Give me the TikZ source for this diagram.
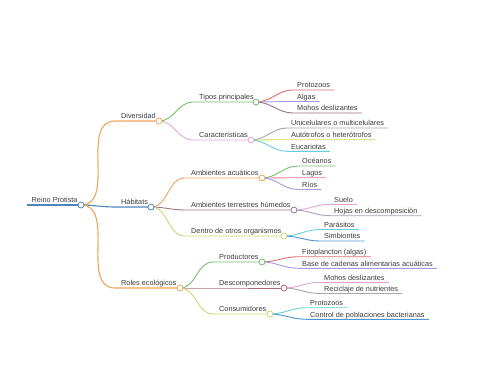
\documentclass[tikz,border=0pt]{standalone}
\usepackage{fontspec}
\setmainfont{Liberation Sans}
\usepackage{xcolor}
\usepackage{tikz}

\definecolor{cOrange}{HTML}{F2A35A}
\definecolor{cBlue}{HTML}{4F86B8}
\definecolor{cGreen}{HTML}{72BE6A}
\definecolor{cPink}{HTML}{E4A6D2}
\definecolor{cRed}{HTML}{DE6F75}
\definecolor{cViolet}{HTML}{A79AE6}
\definecolor{cMauve}{HTML}{9C7486}
\definecolor{cBrick}{HTML}{B06A78}
\definecolor{cGrey}{HTML}{ABA2B2}
\definecolor{cYellow}{HTML}{D6D65A}
\definecolor{cLime}{HTML}{CCD66E}
\definecolor{cCyan}{HTML}{66CFDB}
\definecolor{cSky}{HTML}{4C95D2}
\definecolor{cText}{HTML}{3A3A3A}

\begin{document}
\begin{tikzpicture}[x=1pt, y=-1pt,
  lbl/.style={anchor=south west, font=\fontsize{7.3}{8}\selectfont, text=cText,
              inner xsep=4.5pt, inner ysep=2pt, text height=5.4pt, text depth=0pt},
  topic/.style={lbl, inner xsep=6pt},
  leaf/.style={lbl, inner xsep=4pt},
  dot/.style={circle, draw=#1, fill=white, line width=0.8pt, minimum size=6pt, inner sep=0pt},
  link/.style={draw=#1, line width=0.9pt},
  trunk/.style={draw=#1, line width=1.1pt}
]
\useasboundingbox (0,0) rectangle (480,384);

\node[lbl]   (root)   at (27,205)  {Reino Protista};
\node[topic] (div)    at (115,121) {Diversidad};
\node[topic] (hab)    at (115,207) {Hábitats};
\node[topic] (rol)    at (115,288) {Roles ecológicos};

\node[topic] (tipos)  at (193,102) {Tipos principales};
\node[topic] (carac)  at (193,140) {Características};
\node[topic] (acua)   at (185,178) {Ambientes acuáticos};
\node[topic] (terr)   at (185,210) {Ambientes terrestres húmedos};
\node[topic] (dentro) at (185,236) {Dentro de otros organismos};
\node[topic] (prod)   at (213,262) {Productores};
\node[topic] (desc)   at (213,288) {Descomponedores};
\node[topic] (cons)   at (213,314) {Consumidores};

\node[leaf] (proto)   at (293,90)    {Protozoos};
\node[leaf] (algas)   at (293,101.5) {Algas};
\node[leaf] (mohos)   at (293,113)   {Mohos deslizantes};
\node[leaf] (unice)   at (287,128)   {Unicelulares o multicelulares};
\node[leaf] (auto)    at (287,139.7) {Autótrofos o heterótrofos};
\node[leaf] (euca)    at (287,151.3) {Eucariotas};
\node[leaf] (ocea)    at (298,166)   {Océanos};
\node[leaf] (lagos)   at (298,177.7) {Lagos};
\node[leaf] (rios)    at (298,189.5) {Ríos};
\node[leaf] (suelo)   at (330,204.3) {Suelo};
\node[leaf] (hojas)   at (330,215.7) {Hojas en descomposición};
\node[leaf] (para)    at (320,229.5) {Parásitos};
\node[leaf] (simb)    at (320,241)   {Simbiontes};
\node[leaf] (fito)    at (298,256.7) {Fitoplancton (algas)};
\node[leaf] (base)    at (298,268.3) {Base de cadenas alimentarias acuáticas};
\node[leaf] (mohosb)  at (320,282.3) {Mohos deslizantes};
\node[leaf] (recic)   at (320,293.5) {Reciclaje de nutrientes};
\node[leaf] (protob)  at (306,307.7) {Protozoos};
\node[leaf] (control) at (306,319.3) {Control de poblaciones bacterianas};

\coordinate (root-o)   at (81,205);
\coordinate (div-o)    at (159,121);
\coordinate (hab-o)    at (151,207);
\coordinate (rol-o)    at (180,288);
\coordinate (tipos-o)  at (256,102);
\coordinate (carac-o)  at (251,140);
\coordinate (acua-o)   at (262,178);
\coordinate (terr-o)   at (294,210);
\coordinate (dentro-o) at (284,236);
\coordinate (prod-o)   at (262,262);
\coordinate (desc-o)   at (284,288);
\coordinate (cons-o)   at (270,314);

\draw[trunk=cBlue] (root.south west) -- (root-o);
\draw[trunk=cOrange] (root-o) to[out=0,in=180] (div.south west) -- (div-o);
\draw[trunk=cBlue] (root-o) to[out=0,in=180] (hab.south west) -- (hab-o);
\draw[trunk=cOrange] (root-o) to[out=0,in=180] (rol.south west) -- (rol-o);

\draw[link=cGreen] (div-o) to[out=0,in=180] (tipos.south west) -- (tipos-o);
\draw[link=cPink] (div-o) to[out=0,in=180] (carac.south west) -- (carac-o);
\draw[link=cOrange] (hab-o) to[out=0,in=180] (acua.south west) -- (acua-o);
\draw[link=cMauve] (hab-o) to[out=0,in=180] (terr.south west) -- (terr-o);
\draw[link=cLime] (hab-o) to[out=0,in=180] (dentro.south west) -- (dentro-o);
\draw[link=cGreen] (rol-o) to[out=0,in=180] (prod.south west) -- (prod-o);
\draw[link=cBrick] (rol-o) to[out=0,in=180] (desc.south west) -- (desc-o);
\draw[link=cLime] (rol-o) to[out=0,in=180] (cons.south west) -- (cons-o);

\draw[link=cRed] (tipos-o) to[out=0,in=180] (proto.south west) -- (proto.south east);
\draw[link=cViolet] (tipos-o) to[out=0,in=180] (algas.south west) -- (algas.south east);
\draw[link=cMauve] (tipos-o) to[out=0,in=180] (mohos.south west) -- (mohos.south east);
\draw[link=cGrey] (carac-o) to[out=0,in=180] (unice.south west) -- (unice.south east);
\draw[link=cYellow] (carac-o) to[out=0,in=180] (auto.south west) -- (auto.south east);
\draw[link=cCyan] (carac-o) to[out=0,in=180] (euca.south west) -- (euca.south east);
\draw[link=cGreen] (acua-o) to[out=0,in=180] (ocea.south west) -- (ocea.south east);
\draw[link=cRed!70!cPink] (acua-o) to[out=0,in=180] (lagos.south west) -- (lagos.south east);
\draw[link=cViolet] (acua-o) to[out=0,in=180] (rios.south west) -- (rios.south east);
\draw[link=cPink] (terr-o) to[out=0,in=180] (suelo.south west) -- (suelo.south east);
\draw[link=cGrey] (terr-o) to[out=0,in=180] (hojas.south west) -- (hojas.south east);
\draw[link=cCyan] (dentro-o) to[out=0,in=180] (para.south west) -- (para.south east);
\draw[link=cSky] (dentro-o) to[out=0,in=180] (simb.south west) -- (simb.south east);
\draw[link=cRed] (prod-o) to[out=0,in=180] (fito.south west) -- (fito.south east);
\draw[link=cViolet] (prod-o) to[out=0,in=180] (base.south west) -- (base.south east);
\draw[link=cPink] (desc-o) to[out=0,in=180] (mohosb.south west) -- (mohosb.south east);
\draw[link=cGrey] (desc-o) to[out=0,in=180] (recic.south west) -- (recic.south east);
\draw[link=cCyan] (cons-o) to[out=0,in=180] (protob.south west) -- (protob.south east);
\draw[link=cSky] (cons-o) to[out=0,in=180] (control.south west) -- (control.south east);

\node[dot=cBlue]   at (root-o)   {};
\node[dot=cOrange] at (div-o)    {};
\node[dot=cBlue]   at (hab-o)    {};
\node[dot=cOrange] at (rol-o)    {};
\node[dot=cGreen]  at (tipos-o)  {};
\node[dot=cPink]   at (carac-o)  {};
\node[dot=cOrange] at (acua-o)   {};
\node[dot=cMauve]  at (terr-o)   {};
\node[dot=cLime]   at (dentro-o) {};
\node[dot=cGreen]  at (prod-o)   {};
\node[dot=cBrick]  at (desc-o)   {};
\node[dot=cLime]   at (cons-o)   {};
\end{tikzpicture}
\end{document}
